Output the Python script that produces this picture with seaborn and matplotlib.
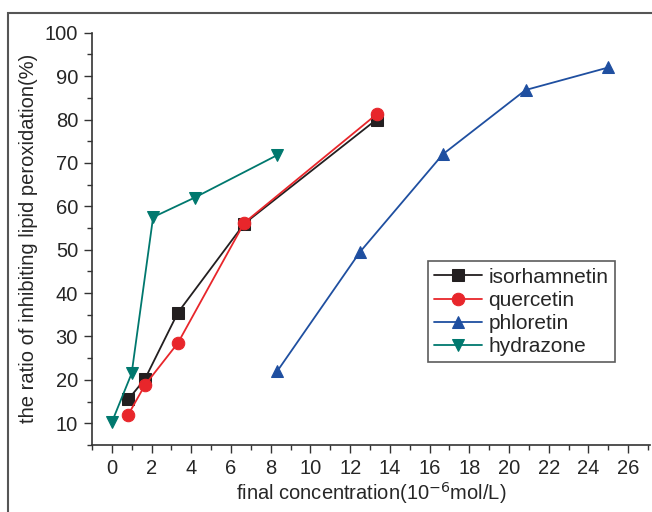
import numpy as np
import pandas as pd
import matplotlib
matplotlib.use("Agg")
import matplotlib.pyplot as plt
from matplotlib.patches import Rectangle
from matplotlib.ticker import MultipleLocator
import seaborn as sns

# data
iso_x = [0.83, 1.67, 3.33, 6.67, 13.33]
iso_y = [15.5, 20.2, 35.5, 56.0, 80.0]
que_x = [0.83, 1.67, 3.33, 6.67, 13.33]
que_y = [12.0, 18.8, 28.5, 56.2, 81.2]
phl_x = [8.33, 12.5, 16.67, 20.83, 25.0]
phl_y = [22.0, 49.5, 72.0, 86.8, 92.0]
hyd_x = [0.0, 1.0, 2.08, 4.17, 8.33]
hyd_y = [10.2, 21.5, 57.5, 62.0, 71.8]

series = [
    ("isorhamnetin", iso_x, iso_y, "s", "#231f20", 8),
    ("quercetin", que_x, que_y, "o", "#e8262b", 9),
    ("phloretin", phl_x, phl_y, "^", "#1f4fa0", 9),
    ("hydrazone", hyd_x, hyd_y, "v", "#00786e", 9),
]

sns.set_style("ticks")
plt.rcParams['font.family'] = ['Liberation Sans', 'DejaVu Sans']

fig = plt.figure(figsize=(6.52, 5.12), dpi=100)
ax = fig.add_axes([0.141, 0.131, 0.856, 0.805])

# outer frame of the original graphic
fig.patches.append(Rectangle((8 / 652, -0.1), 1.2, 1 - 13 / 512 + 0.1,
                             transform=fig.transFigure, fill=False,
                             edgecolor="#555555", linewidth=1.5))

for name, xs, ys, mk, col, ms in series:
    df = pd.DataFrame({"x": xs, "y": ys})
    sns.lineplot(data=df, x="x", y="y", ax=ax, color=col, marker=mk,
                 markersize=ms, markeredgecolor=col, linewidth=1.3,
                 label=name, sort=False)

ax.set_xlim(-1, 27.1)
ax.set_ylim(5, 100)
ax.xaxis.set_major_locator(MultipleLocator(2))
ax.xaxis.set_minor_locator(MultipleLocator(1))
ax.yaxis.set_major_locator(MultipleLocator(10))
ax.yaxis.set_minor_locator(MultipleLocator(5))
ax.set_yticks(np.arange(10, 101, 10))
ax.tick_params(which="major", length=6, width=1, color="#333333",
               labelsize=14.5, pad=4)
ax.tick_params(which="minor", length=3.5, width=1, color="#333333")
for s in ["top", "right"]:
    ax.spines[s].set_visible(False)
for s in ["left", "bottom"]:
    ax.spines[s].set_color("#333333")
    ax.spines[s].set_linewidth(1.2)

ax.set_xlabel("final concentration(10$^{-6}$mol/L)", fontsize=14.5, labelpad=2)
ax.set_ylabel("the ratio of inhibiting lipid peroxidation(%)", fontsize=14.5,
              labelpad=5)

leg = ax.legend(loc="lower left", bbox_to_anchor=(0.602, 0.2), fontsize=15,
                frameon=True, fancybox=False, edgecolor="#333333",
                handlelength=2.3, handletextpad=0.3, labelspacing=0.2,
                borderpad=0.3, borderaxespad=0)
leg.get_frame().set_linewidth(1.2)

fig.savefig("out.png", dpi=100)
